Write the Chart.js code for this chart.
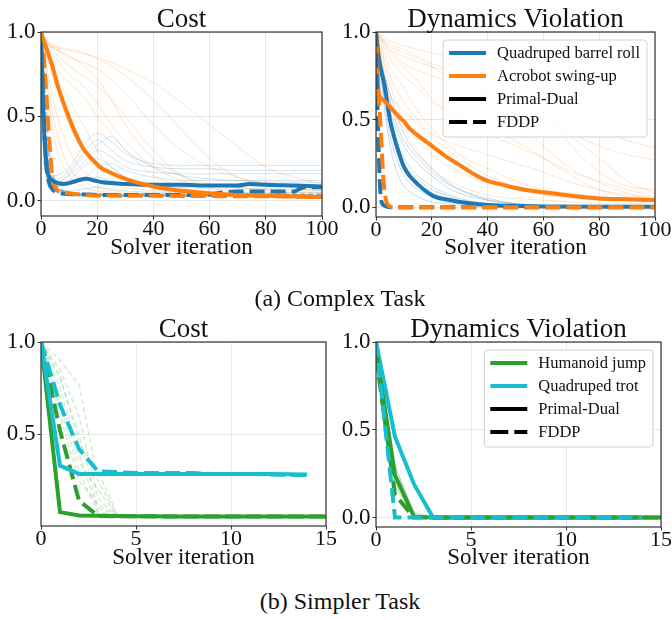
<!DOCTYPE html>
<html>
<head>
<meta charset="utf-8">
<script src="https://cdn.jsdelivr.net/npm/chart.js@4.4.1/dist/chart.umd.min.js"></script>
<style>
  body { margin: 0; background: #fff; width: 672px; height: 620px; position: relative; overflow: hidden; }
  canvas { position: absolute; }
  .cap { position: absolute; left: 0; width: 680px; text-align: center; font: 24px "Liberation Serif", serif; line-height: 24px; color: #111; }
</style>
</head>
<body>
<canvas id="costComplex" width="345" height="270" style="left:0;top:0"></canvas>
<canvas id="dynComplex" width="336" height="270" style="left:336px;top:0"></canvas>
<canvas id="costSimple" width="345" height="270" style="left:0;top:310px"></canvas>
<canvas id="dynSimple" width="336" height="270" style="left:336px;top:310px"></canvas>
<div class="cap" style="top:286px">(a) Complex Task</div>
<div class="cap" style="top:589px">(b) Simpler Task</div>

<script>
// ---------- tick labels ----------
const itTicksComplex = [0, 20, 40, 60, 80, 100];
const itTicksSimple = [0, 5, 10, 15];
const yTicks = [0, 0.5, 1];
const yTicksSimpleCost = [0.5, 1];

// ---------- (a) complex task : cost ----------
const costBarrelPdIt = [0, 1, 2, 3, 4, 6, 8, 10, 13, 16, 19, 22, 25, 30, 40, 50, 60, 70, 74, 80, 90, 100];
const costBarrelPd = [1.0, 0.45, 0.2, 0.14, 0.12, 0.105, 0.1, 0.105, 0.12, 0.13, 0.12, 0.11, 0.105, 0.1, 0.095, 0.095, 0.09, 0.09, 0.1, 0.095, 0.09, 0.085];
const costBarrelFddpIt = [0, 1, 2, 3, 4, 5, 7, 10, 15, 20, 30, 40, 50, 60, 65, 70, 80, 90, 92, 94, 100];
const costBarrelFddp = [1, 0.5, 0.2, 0.1, 0.07, 0.055, 0.045, 0.04, 0.038, 0.035, 0.035, 0.035, 0.035, 0.038, 0.05, 0.055, 0.055, 0.055, 0.07, 0.08, 0.08];
const costAcroPdIt = [0, 2, 4, 6, 8, 10, 12, 15, 18, 21, 25, 30, 35, 40, 45, 50, 60, 70, 80, 90, 100];
const costAcroPd = [1.0, 0.9, 0.8, 0.68, 0.58, 0.49, 0.41, 0.31, 0.25, 0.2, 0.165, 0.13, 0.105, 0.085, 0.07, 0.06, 0.045, 0.035, 0.03, 0.025, 0.022];
const costAcroFddpIt = [0, 1, 2, 3, 4, 5, 7, 10, 15, 20, 40, 60, 80, 100];
const costAcroFddp = [1, 0.85, 0.6, 0.35, 0.15, 0.08, 0.055, 0.045, 0.035, 0.032, 0.03, 0.028, 0.027, 0.025];

const costRunsIt = [0, 2, 5, 10, 15, 20, 25, 30, 40, 50, 60, 70, 80, 90, 100];
const costAcroRuns = [
  [0.93, 0.92, 0.91, 0.89, 0.87, 0.85, 0.82, 0.78, 0.70, 0.58, 0.45, 0.32, 0.2, 0.14, 0.1],
  [0.95, 0.93, 0.9, 0.85, 0.82, 0.78, 0.72, 0.64, 0.45, 0.3, 0.2, 0.14, 0.1, 0.08, 0.07],
  [1, 0.95, 0.88, 0.8, 0.74, 0.68, 0.6, 0.5, 0.3, 0.15, 0.08, 0.05, 0.04, 0.04, 0.03],
  [1, 0.9, 0.8, 0.7, 0.62, 0.5, 0.4, 0.3, 0.15, 0.08, 0.05, 0.04, 0.03, 0.03, 0.03],
  [1, 0.88, 0.75, 0.6, 0.45, 0.3, 0.2, 0.14, 0.08, 0.05, 0.04, 0.03, 0.03, 0.02, 0.02],
  [0.98, 0.85, 0.7, 0.45, 0.3, 0.2, 0.15, 0.12, 0.08, 0.06, 0.05, 0.04, 0.04, 0.03, 0.03],
  [1, 0.8, 0.55, 0.3, 0.18, 0.12, 0.1, 0.08, 0.06, 0.05, 0.04, 0.03, 0.03, 0.03, 0.02],
  [1, 0.75, 0.45, 0.2, 0.12, 0.08, 0.06, 0.05, 0.04, 0.03, 0.03, 0.03, 0.02, 0.02, 0.02],
  [0.97, 0.93, 0.9, 0.86, 0.8, 0.72, 0.6, 0.45, 0.25, 0.15, 0.1, 0.08, 0.06, 0.05, 0.05],
  [0.96, 0.94, 0.92, 0.9, 0.88, 0.84, 0.8, 0.74, 0.6, 0.42, 0.25, 0.14, 0.1, 0.09, 0.08],
  [1, 0.92, 0.85, 0.75, 0.68, 0.58, 0.45, 0.35, 0.2, 0.12, 0.09, 0.08, 0.07, 0.06, 0.06],
  [1, 0.7, 0.35, 0.15, 0.08, 0.06, 0.05, 0.04, 0.04, 0.03, 0.03, 0.03, 0.03, 0.03, 0.03]
];
const costBarrelRuns = [
  [1, 0.3, 0.15, 0.2, 0.32, 0.4, 0.35, 0.28, 0.22, 0.21, 0.21, 0.21, 0.21, 0.21, 0.21],
  [1, 0.25, 0.12, 0.18, 0.28, 0.36, 0.3, 0.24, 0.2, 0.19, 0.19, 0.18, 0.18, 0.18, 0.18],
  [1, 0.2, 0.1, 0.15, 0.22, 0.3, 0.26, 0.2, 0.17, 0.16, 0.16, 0.16, 0.16, 0.16, 0.16],
  [1, 0.3, 0.12, 0.11, 0.13, 0.2, 0.22, 0.18, 0.14, 0.12, 0.12, 0.12, 0.11, 0.11, 0.11],
  [1, 0.15, 0.08, 0.12, 0.2, 0.25, 0.2, 0.14, 0.1, 0.09, 0.09, 0.09, 0.09, 0.09, 0.09],
  [1, 0.2, 0.1, 0.1, 0.12, 0.14, 0.12, 0.1, 0.08, 0.08, 0.07, 0.07, 0.07, 0.07, 0.06],
  [1, 0.25, 0.1, 0.16, 0.26, 0.33, 0.38, 0.3, 0.2, 0.15, 0.13, 0.12, 0.12, 0.12, 0.12],
  [1, 0.18, 0.07, 0.06, 0.07, 0.08, 0.07, 0.06, 0.05, 0.05, 0.05, 0.05, 0.05, 0.05, 0.05]
];
const costBarrelFddpRunsIt = [0, 1, 2, 3, 5, 8, 12, 20, 40, 60, 80, 100];
const costBarrelFddpRuns = [
  [1, 0.45, 0.25, 0.15, 0.07, 0.04, 0.035, 0.03, 0.03, 0.03, 0.03, 0.03],
  [1, 0.3, 0.15, 0.1, 0.06, 0.045, 0.04, 0.035, 0.035, 0.035, 0.035, 0.035],
  [1, 0.6, 0.35, 0.2, 0.1, 0.05, 0.04, 0.035, 0.03, 0.03, 0.03, 0.03],
  [1, 0.75, 0.5, 0.28, 0.12, 0.06, 0.045, 0.04, 0.04, 0.04, 0.04, 0.04]
];

// ---------- (a) complex task : dynamics violation ----------
const dynBarrelPdIt = [0, 1, 2, 3, 4, 5, 6, 8, 10, 12, 15, 18, 21, 25, 30, 35, 40, 50, 60, 80, 100];
const dynBarrelPd = [1.0, 0.85, 0.77, 0.7, 0.6, 0.5, 0.43, 0.32, 0.23, 0.18, 0.13, 0.09, 0.06, 0.045, 0.03, 0.02, 0.013, 0.007, 0.004, 0.002, 0.002];
const dynAcroPdIt = [0, 1, 2, 4, 6, 8, 10, 12, 15, 20, 25, 30, 35, 40, 45, 50, 60, 70, 80, 90, 100];
const dynAcroPd = [1.0, 0.65, 0.62, 0.59, 0.555, 0.52, 0.49, 0.45, 0.41, 0.35, 0.29, 0.24, 0.19, 0.15, 0.13, 0.11, 0.085, 0.065, 0.05, 0.045, 0.04];
const dynBarrelFddpIt = [0, 0.5, 1, 1.5, 2, 3, 5, 100];
const dynBarrelFddp = [1.0, 0.6, 0.3, 0.1, 0.03, 0.01, 0, 0];
const dynAcroFddpIt = [0, 1, 1.5, 2, 2.5, 3, 4, 6, 100];
const dynAcroFddp = [0.66, 0.62, 0.5, 0.35, 0.2, 0.1, 0.02, 0, 0];

const dynAcroRunsIt = [0, 5, 10, 15, 20, 30, 40, 50, 60, 70, 80, 90, 100];
const dynAcroRuns = [
  [1, 0.95, 0.92, 0.9, 0.88, 0.85, 0.8, 0.74, 0.65, 0.52, 0.45, 0.38, 0.34],
  [1, 0.93, 0.9, 0.86, 0.82, 0.77, 0.7, 0.6, 0.5, 0.42, 0.35, 0.3, 0.27],
  [1, 0.9, 0.82, 0.78, 0.75, 0.7, 0.62, 0.5, 0.35, 0.22, 0.14, 0.08, 0.05],
  [1, 0.85, 0.75, 0.68, 0.6, 0.52, 0.45, 0.38, 0.28, 0.18, 0.1, 0.06, 0.05],
  [1, 0.8, 0.68, 0.55, 0.45, 0.3, 0.22, 0.15, 0.1, 0.08, 0.06, 0.05, 0.04],
  [1, 0.75, 0.6, 0.5, 0.42, 0.35, 0.3, 0.25, 0.2, 0.14, 0.1, 0.07, 0.05],
  [1, 0.7, 0.5, 0.38, 0.3, 0.2, 0.14, 0.1, 0.07, 0.05, 0.04, 0.03, 0.03],
  [1, 0.6, 0.45, 0.32, 0.22, 0.12, 0.07, 0.05, 0.04, 0.03, 0.02, 0.02, 0.02],
  [1, 0.92, 0.88, 0.85, 0.8, 0.72, 0.65, 0.58, 0.5, 0.4, 0.28, 0.15, 0.08],
  [1, 0.88, 0.8, 0.72, 0.62, 0.5, 0.42, 0.35, 0.28, 0.2, 0.15, 0.1, 0.06],
  [1, 0.65, 0.55, 0.48, 0.4, 0.28, 0.18, 0.12, 0.08, 0.06, 0.05, 0.04, 0.04],
  [1, 0.9, 0.86, 0.83, 0.8, 0.78, 0.76, 0.7, 0.55, 0.35, 0.2, 0.12, 0.1]
];
const dynBarrelRunsIt = [0, 2, 4, 6, 8, 10, 15, 20, 25, 30, 40, 50, 60, 100];
const dynBarrelRuns = [
  [1, 0.8, 0.6, 0.45, 0.35, 0.28, 0.18, 0.12, 0.08, 0.05, 0.02, 0.01, 0, 0],
  [1, 0.75, 0.5, 0.35, 0.25, 0.18, 0.1, 0.06, 0.03, 0.02, 0.01, 0, 0, 0],
  [1, 0.8, 0.68, 0.55, 0.45, 0.38, 0.28, 0.2, 0.14, 0.1, 0.04, 0.02, 0.01, 0],
  [1, 0.7, 0.45, 0.28, 0.18, 0.12, 0.06, 0.03, 0.02, 0.01, 0, 0, 0, 0],
  [1, 0.78, 0.62, 0.5, 0.42, 0.35, 0.25, 0.18, 0.12, 0.08, 0.04, 0.02, 0.01, 0],
  [1, 0.72, 0.55, 0.4, 0.3, 0.22, 0.13, 0.08, 0.05, 0.03, 0.01, 0, 0, 0],
  [1, 0.82, 0.7, 0.6, 0.5, 0.42, 0.3, 0.22, 0.15, 0.1, 0.05, 0.02, 0.01, 0],
  [1, 0.76, 0.58, 0.42, 0.32, 0.25, 0.16, 0.1, 0.07, 0.04, 0.02, 0.01, 0, 0]
];

// ---------- (b) simpler task : cost ----------
const simpleIt = [0, 1, 2, 3, 4, 5, 6, 7, 8, 9, 10, 11, 12, 13, 14, 15];
const costJumpPd = [1.0, 0.078, 0.06, 0.058, 0.057, 0.056, 0.056, 0.055, 0.055, 0.055, 0.055, 0.055, 0.055, 0.054, 0.054, 0.054];
const costJumpFddp = [1.0, 0.52, 0.14, 0.058, 0.056, 0.056, 0.055, 0.055, 0.055, 0.055, 0.055, 0.055, 0.055, 0.055, 0.055, 0.055];
const costTrotPd = [1.0, 0.33, 0.285, 0.285, 0.285, 0.285, 0.285, 0.285, 0.285, 0.285, 0.285, 0.285, 0.285, 0.283, 0.282];
const costTrotFddp = [1.0, 0.66, 0.42, 0.30, 0.295, 0.29, 0.29, 0.29, 0.29, 0.285, 0.285, 0.285, 0.282, 0.28, 0.28];
const costJumpRunsIt = [0, 1, 2, 3, 4, 5, 15];
const costJumpRuns = [
  [1, 0.9, 0.77, 0.25, 0.06, 0.055, 0.055],
  [1, 0.85, 0.6, 0.15, 0.06, 0.055, 0.055],
  [1, 0.8, 0.5, 0.1, 0.06, 0.055, 0.055],
  [1, 0.75, 0.4, 0.08, 0.06, 0.055, 0.055],
  [1, 0.7, 0.35, 0.2, 0.06, 0.055, 0.055],
  [1, 0.65, 0.3, 0.07, 0.06, 0.055, 0.055],
  [1, 0.6, 0.25, 0.12, 0.06, 0.055, 0.055],
  [1, 0.82, 0.45, 0.3, 0.07, 0.055, 0.055]
];

// ---------- (b) simpler task : dynamics violation ----------
const dynJumpPd = [0.95, 0.24, 0.005, 0, 0, 0, 0, 0, 0, 0, 0, 0, 0, 0, 0, 0];
const dynJumpFddp = [0.92, 0.13, 0, 0, 0, 0, 0, 0, 0, 0, 0, 0, 0, 0, 0, 0];
const dynTrotPd = [1.0, 0.46, 0.19, 0, 0, 0, 0, 0, 0, 0, 0, 0, 0, 0, 0];
const dynTrotFddp = [1.0, 0, 0, 0, 0, 0, 0, 0, 0, 0, 0, 0, 0, 0, 0];
const dynJumpRunsIt = [0, 1, 2, 3, 15];
const dynJumpRuns = [
  [1, 0.3, 0.02, 0, 0],
  [0.95, 0.2, 0.01, 0, 0],
  [1, 0.28, 0.03, 0, 0],
  [0.9, 0.18, 0, 0, 0]
];

// ---------- style ----------
const BLUE = '#1f77b4', ORANGE = '#ff7f0e', GREEN = '#2ca02c', CYAN = '#17becf';
const SERIF = '"Liberation Serif", "DejaVu Serif", serif';
const DASH = [15, 6];

function rgba(hex, a) {
  const n = parseInt(hex.slice(1), 16);
  return 'rgba(' + (n >> 16) + ',' + ((n >> 8) & 255) + ',' + (n & 255) + ',' + a + ')';
}
function pts(xs, ys) {
  return ys.map((y, i) => ({ x: xs[i], y: y }));
}
function line(xs, ys, color, width, dash, smooth) {
  return {
    data: pts(xs, ys),
    borderColor: color,
    borderWidth: width,
    borderDash: dash || [],
    cubicInterpolationMode: smooth ? 'monotone' : 'default',
    tension: 0,
    pointRadius: 0,
    fill: false
  };
}
function runs(xs, list, color, alpha, width, dash, smooth) {
  return list.map(ys => line(xs, ys, rgba(color, alpha), width, dash, smooth));
}

function decorations(title, legendItems) {
  return {
    id: 'decorations',
    afterDraw(chart) {
      const { ctx, chartArea: a } = chart;
      ctx.save();
      // frame
      ctx.strokeStyle = '#333';
      ctx.lineWidth = 1.2;
      ctx.strokeRect(a.left, a.top, a.right - a.left, a.bottom - a.top);
      // title
      ctx.fillStyle = '#111';
      ctx.font = '27px ' + SERIF;
      ctx.textAlign = 'center';
      ctx.textBaseline = 'alphabetic';
      ctx.fillText(title, (a.left + a.right) / 2, a.top - 5);
      // legend
      if (legendItems) {
        ctx.font = '16.5px ' + SERIF;
        const tw = Math.max(...legendItems.map(it => ctx.measureText(it.label).width));
        const w = 6 + 37 + 11 + tw + 7, rowH = 23, h = legendItems.length * rowH + 5;
        const x0 = a.right - 8 - w, y0 = a.top + 8;
        ctx.beginPath();
        ctx.roundRect(x0, y0, w, h, 3);
        ctx.fillStyle = 'rgba(255,255,255,0.85)';
        ctx.fill();
        ctx.strokeStyle = '#d0d0d0';
        ctx.lineWidth = 1;
        ctx.stroke();
        legendItems.forEach((it, i) => {
          const cy = y0 + 13 + i * rowH;
          ctx.strokeStyle = it.color;
          ctx.lineWidth = 4;
          ctx.setLineDash(it.dash || []);
          ctx.beginPath();
          ctx.moveTo(x0 + 6, cy);
          ctx.lineTo(x0 + 43, cy);
          ctx.stroke();
          ctx.setLineDash([]);
          ctx.fillStyle = '#111';
          ctx.textAlign = 'left';
          ctx.textBaseline = 'middle';
          ctx.fillText(it.label, x0 + 54, cy + 1);
        });
      }
      ctx.restore();
    }
  };
}

function makeChart(id, c) {
  // datasets listed back to front
  const n = c.datasets.length;
  c.datasets.forEach((d, i) => { d.order = n - i; });
  return new Chart(document.getElementById(id), {
    type: 'line',
    data: { datasets: c.datasets },
    options: {
      responsive: false,
      animation: false,
      events: [],
      layout: { padding: { top: 32, right: c.padRight, left: 0, bottom: 0 } },
      plugins: { legend: { display: false }, tooltip: { enabled: false } },
      scales: {
        x: {
          type: 'linear',
          min: c.xMin, max: c.xMax,
          afterBuildTicks: s => { s.ticks = c.xTicks.map(v => ({ value: v })); },
          afterFit: s => { s.height = c.xAxisH; s.paddingLeft = 0; s.paddingRight = 0; },
          ticks: { font: { family: SERIF, size: 22, lineHeight: 1 }, color: '#111', padding: -1, maxRotation: 0, autoSkip: false, callback: v => String(v) },
          grid: { color: 'rgba(0,0,0,0.09)', tickColor: '#333', tickLength: 3.5, lineWidth: 1 },
          border: { display: false },
          title: { display: true, text: 'Solver iteration', font: { family: SERIF, size: 23 }, color: '#111', padding: { top: 0, bottom: 8 } }
        },
        y: {
          type: 'linear',
          min: c.yMin, max: 1.0,
          afterBuildTicks: s => { s.ticks = c.yTicks.map(v => ({ value: v })); },
          afterFit: s => { s.width = c.yAxisW; s.paddingTop = 0; s.paddingBottom = 0; },
          ticks: { font: { family: SERIF, size: 23 }, color: '#111', padding: 2, callback: v => v.toFixed(1) },
          grid: { color: 'rgba(0,0,0,0.09)', tickColor: '#333', tickLength: 3.5, lineWidth: 1 },
          border: { display: false }
        }
      }
    },
    plugins: [decorations(c.title, c.legend)]
  });
}

// ---------- (a) cost ----------
makeChart('costComplex', {
  title: 'Cost', xMin: 0, xMax: 100, yMin: -0.09, xTicks: itTicksComplex, yTicks: yTicks,
  padRight: 23, yAxisW: 41, xAxisH: 54,
  datasets: [
    ...runs(costRunsIt, costAcroRuns, ORANGE, 0.22, 1, null, true),
    ...runs(costRunsIt, costBarrelRuns, BLUE, 0.2, 1, null, true),
    ...runs(costBarrelFddpRunsIt, costBarrelFddpRuns, BLUE, 0.35, 2, [5, 3], true),
    line(costBarrelFddpIt, costBarrelFddp, BLUE, 4, DASH, true),
    line(costAcroFddpIt, costAcroFddp, ORANGE, 4, DASH, true),
    line(costBarrelPdIt, costBarrelPd, BLUE, 4, null, true),
    line(costAcroPdIt, costAcroPd, ORANGE, 4, null, true)
  ]
});

// ---------- (a) dynamics violation ----------
makeChart('dynComplex', {
  title: 'Dynamics Violation', xMin: 0, xMax: 100, yMin: -0.056, xTicks: itTicksComplex, yTicks: yTicks,
  padRight: 17, yAxisW: 40, xAxisH: 53,
  legend: [
    { label: 'Quadruped barrel roll', color: BLUE },
    { label: 'Acrobot swing-up', color: ORANGE },
    { label: 'Primal-Dual', color: '#000' },
    { label: 'FDDP', color: '#000', dash: [18, 6] }
  ],
  datasets: [
    ...runs(dynAcroRunsIt, dynAcroRuns, ORANGE, 0.2, 1, null, true),
    ...runs(dynBarrelRunsIt, dynBarrelRuns, BLUE, 0.25, 1, null, true),
    line(dynBarrelPdIt, dynBarrelPd, BLUE, 4, null, true),
    line(dynAcroPdIt, dynAcroPd, ORANGE, 4, null, true),
    line(dynBarrelFddpIt, dynBarrelFddp, BLUE, 4, DASH, true),
    line(dynAcroFddpIt, dynAcroFddp, ORANGE, 4, DASH, true)
  ]
});

// ---------- (b) cost ----------
makeChart('costSimple', {
  title: 'Cost', xMin: 0, xMax: 15, yMin: 0.003, xTicks: itTicksSimple, yTicks: yTicksSimpleCost,
  padRight: 19, yAxisW: 41, xAxisH: 54,
  datasets: [
    ...runs(costJumpRunsIt, costJumpRuns, GREEN, 0.2, 1.5, [5, 3], false),
    line(simpleIt, costJumpPd, GREEN, 4, null, false),
    line(simpleIt, costJumpFddp, GREEN, 4, DASH, false),
    line(simpleIt, costTrotPd, CYAN, 4, null, false),
    line(simpleIt, costTrotFddp, CYAN, 4, DASH, false)
  ]
});

// ---------- (b) dynamics violation ----------
makeChart('dynSimple', {
  title: 'Dynamics Violation', xMin: 0, xMax: 15, yMin: -0.054, xTicks: itTicksSimple, yTicks: yTicks,
  padRight: 11, yAxisW: 40, xAxisH: 53,
  legend: [
    { label: 'Humanoid jump', color: GREEN },
    { label: 'Quadruped trot', color: CYAN },
    { label: 'Primal-Dual', color: '#000' },
    { label: 'FDDP', color: '#000', dash: [18, 6] }
  ],
  datasets: [
    ...runs(dynJumpRunsIt, dynJumpRuns, GREEN, 0.2, 1.5, null, false),
    line(simpleIt, dynTrotPd, CYAN, 4, null, false),
    line(simpleIt, dynJumpPd, GREEN, 4, null, false),
    line(simpleIt, dynJumpFddp, GREEN, 4, DASH, false),
    line(simpleIt, dynTrotFddp, CYAN, 4, DASH, false)
  ]
});
</script>
</body>
</html>
